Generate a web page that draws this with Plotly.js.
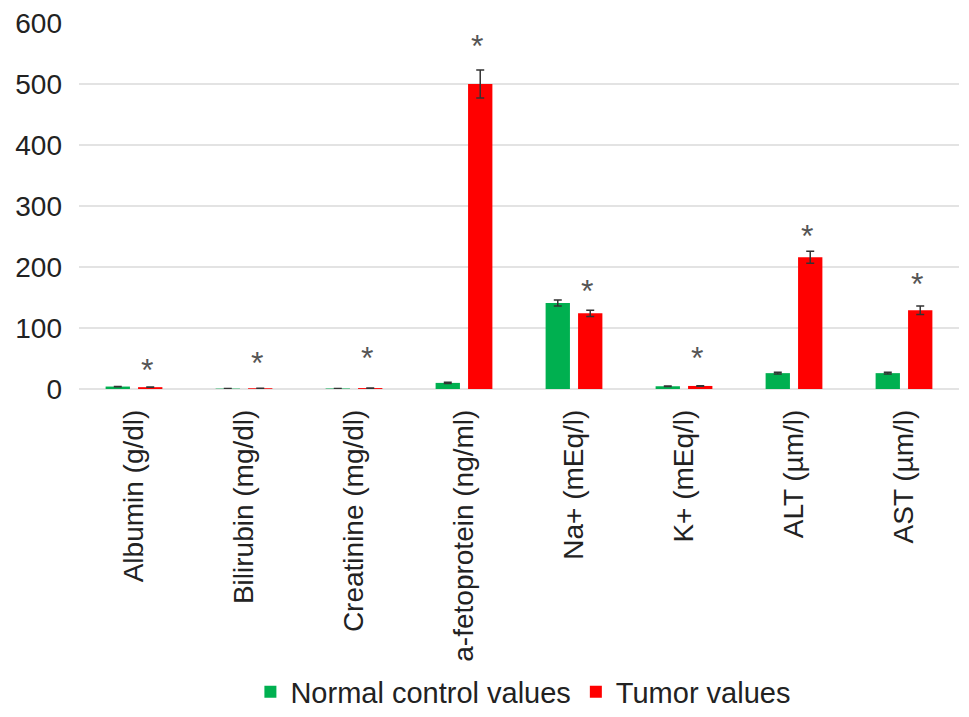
<!DOCTYPE html>
<html><head><meta charset="utf-8">
<script src="https://cdn.plot.ly/plotly-3.0.1.min.js"></script>
<style>body{margin:0;background:#fff}#c{width:969px;height:717px}</style>
</head><body><div id="c"></div>
<script>
const categories = ["Albumin (g/dl)","Bilirubin (mg/dl)","Creatinine (mg/dl)","a-fetoprotein (ng/ml)","Na+ (mEq/l)","K+ (mEq/l)","ALT (µm/l)","AST (µm/l)"];
const normalValues = [4, 0.6, 0.8, 10, 141, 4.5, 26, 26];
const normalErrors = [0.3, 0.1, 0.1, 1, 5, 0.3, 1.5, 1.5];
const tumorValues = [3, 1.2, 1.5, 500, 124, 5, 216, 129];
const tumorErrors = [0.3, 0.1, 0.1, 23, 5, 0.4, 10, 7];
const asteriskLevels = [36, 48, 56, 567, 166, 56, 256, 177];
const yTicks = [0,100,200,300,400,500,600];

const font = "Liberation Sans, Arial, Helvetica, sans-serif";
const data = [
  {type:"bar", name:"Normal control values", x:categories, y:normalValues,
   marker:{color:"#00b050"},
   error_y:{type:"data", array:normalErrors, visible:true, color:"#333", thickness:1.5, width:4}},
  {type:"bar", name:"Tumor values", x:categories, y:tumorValues,
   marker:{color:"#ff0000"},
   error_y:{type:"data", array:tumorErrors, visible:true, color:"#333", thickness:1.5, width:4}}
];
const annotations = categories.map((c,i)=>({
  x:c, y:asteriskLevels[i], xref:"x", yref:"y", text:"*", showarrow:false,
  xshift:13, yshift:-3, font:{family:font, size:32, color:"#555"}
}));
const layout = {
  width:969, height:717,
  margin:{l:79, r:10, t:23, b:328, autoexpand:false},
  paper_bgcolor:"#fff", plot_bgcolor:"#fff",
  font:{family:font, size:28, color:"#222"},
  barmode:"group", bargap:0.41, bargroupgap:0.25,
  showlegend:true,
  legend:{orientation:"h", x:0.505, xanchor:"center", yref:"container", y:0.035, yanchor:"middle",
          font:{size:29, color:"#222"}, itemwidth:30},
  annotations:annotations,
  xaxis:{tickangle:-90, showgrid:false, zeroline:false, showline:false, ticks:"",
         tickfont:{size:28, color:"#222"}, ticklabelstandoff:14, automargin:false},
  yaxis:{range:[0,600], tickvals:yTicks, showgrid:true, gridcolor:"#e3e3e3", gridwidth:1.5,
         zeroline:true, zerolinecolor:"#e3e3e3", zerolinewidth:1.5, showline:false,
         ticks:"", tickfont:{size:28, color:"#222"}, ticklabelstandoff:16, automargin:false}
};
Plotly.newPlot("c", data, layout, {displayModeBar:false, staticPlot:true});
</script></body></html>
